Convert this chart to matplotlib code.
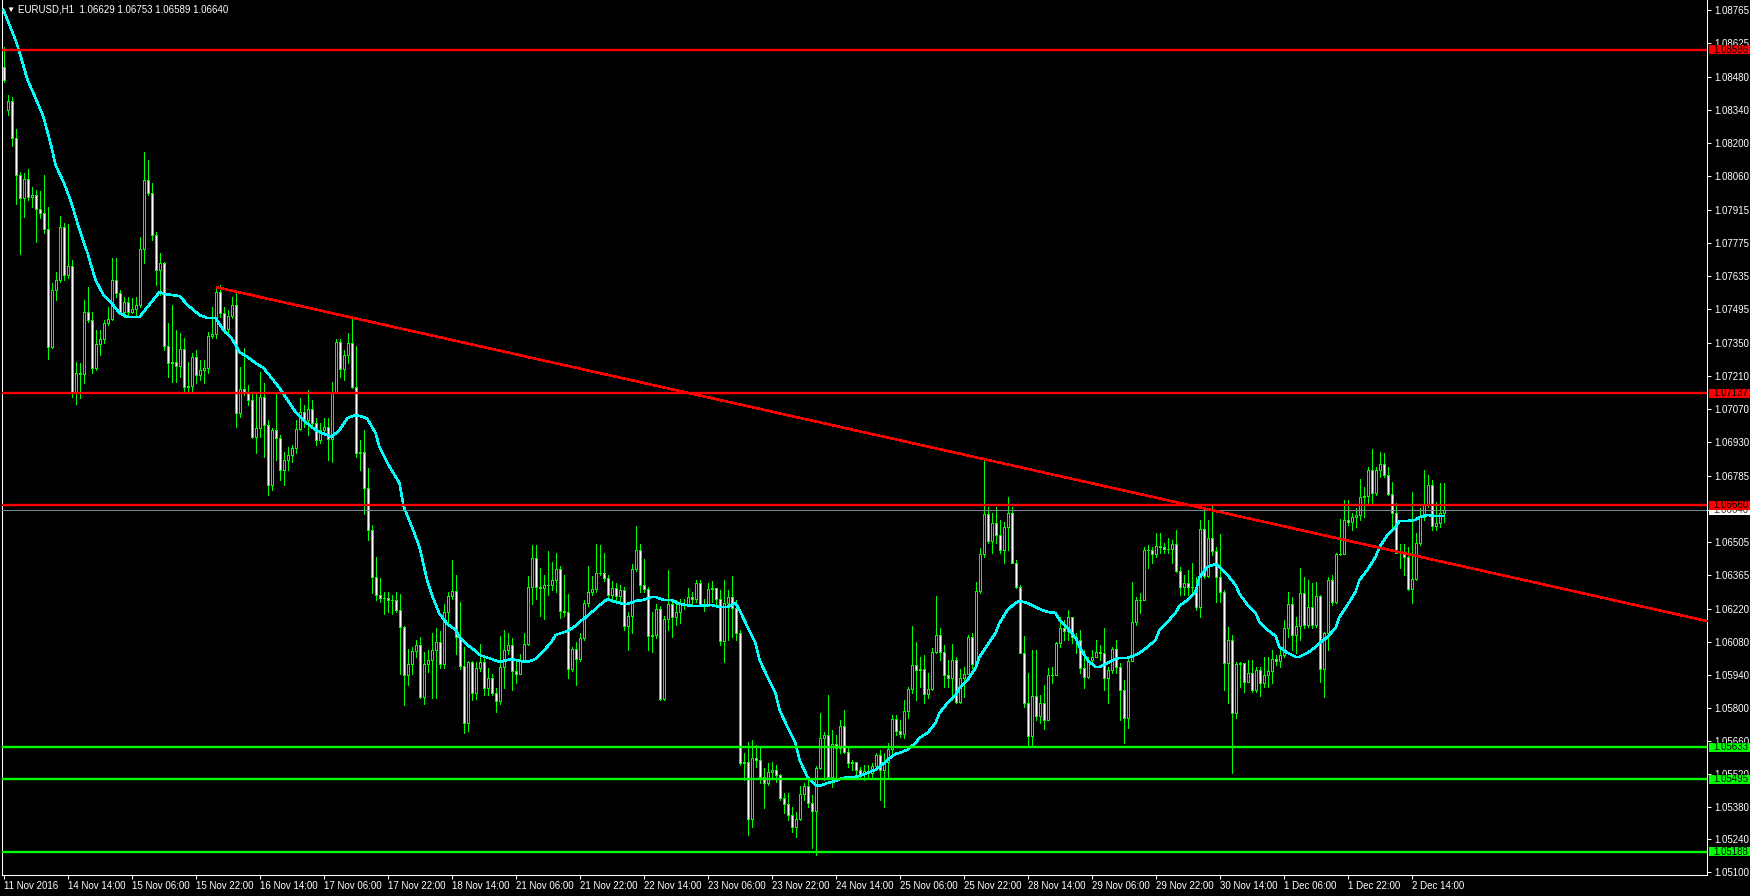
import numpy as np
import matplotlib.pyplot as plt
import matplotlib.transforms as mtransforms
from matplotlib.patches import Rectangle

plt.rcParams['font.family'] = ['Liberation Sans', 'DejaVu Sans']

# EURUSD H1 candles
closes = [
    1.08468, 1.08379, 1.08221, 1.08064, 1.07966, 1.08047, 1.07971, 1.07979, 1.07920, 1.07903,
    1.07835, 1.07333, 1.07575, 1.07618, 1.07843, 1.07639, 1.07677, 1.07138, 1.07223, 1.07218,
    1.07482, 1.07448, 1.07244, 1.07346, 1.07367, 1.07435, 1.07452, 1.07618, 1.07563, 1.07482,
    1.07524, 1.07482, 1.07495, 1.07512, 1.07750, 1.08043, 1.07988, 1.07809, 1.07660, 1.07690,
    1.07337, 1.07265, 1.07269, 1.07252, 1.07325, 1.07163, 1.07167, 1.07291, 1.07214, 1.07235,
    1.07244, 1.07380, 1.07388, 1.07567, 1.07478, 1.07410, 1.07465, 1.07512, 1.07053, 1.07155,
    1.07142, 1.07108, 1.06951, 1.06989, 1.07121, 1.07002, 1.06747, 1.06980, 1.06946, 1.06810,
    1.06853, 1.06874, 1.06904, 1.06985, 1.07057, 1.07023, 1.07070, 1.07010, 1.06938, 1.06980,
    1.06993, 1.06942, 1.07142, 1.07354, 1.07240, 1.07299, 1.07350, 1.07163, 1.06883, 1.06887,
    1.06734, 1.06556, 1.06356, 1.06279, 1.06267, 1.06267, 1.06258, 1.06258, 1.06216, 1.06143,
    1.05939, 1.05986, 1.06041, 1.06067, 1.05846, 1.05986, 1.06003, 1.06046, 1.06080, 1.05986,
    1.06207, 1.06275, 1.06296, 1.06101, 1.05978, 1.05735, 1.05995, 1.05863, 1.05969, 1.05995,
    1.05884, 1.05927, 1.05863, 1.05829, 1.05973, 1.06046, 1.06067, 1.05956, 1.05944, 1.06003,
    1.06071, 1.06313, 1.06437, 1.06313, 1.06309, 1.06322, 1.06322, 1.06343, 1.06390, 1.06211,
    1.06207, 1.05965, 1.06050, 1.06007, 1.06097, 1.06245, 1.06292, 1.06305, 1.06373, 1.06373,
    1.06352, 1.06279, 1.06309, 1.06275, 1.06301, 1.06148, 1.06190, 1.06390, 1.06471, 1.06322,
    1.06305, 1.06105, 1.06109, 1.06220, 1.05837, 1.06177, 1.06241, 1.06186, 1.06207, 1.06241,
    1.06241, 1.06271, 1.06262, 1.06330, 1.06241, 1.06233, 1.06305, 1.06309, 1.06262, 1.06084,
    1.06245, 1.06271, 1.06224, 1.06118, 1.05565, 1.05570, 1.05327, 1.05587, 1.05578, 1.05506,
    1.05480, 1.05527, 1.05536, 1.05514, 1.05417, 1.05391, 1.05344, 1.05293, 1.05327, 1.05434,
    1.05468, 1.05395, 1.05361, 1.05544, 1.05672, 1.05684, 1.05506, 1.05646, 1.05629, 1.05723,
    1.05612, 1.05565, 1.05570, 1.05536, 1.05519, 1.05531, 1.05523, 1.05553, 1.05599, 1.05536,
    1.05570, 1.05625, 1.05752, 1.05701, 1.05689, 1.05786, 1.05880, 1.05982, 1.05961, 1.05965,
    1.05859, 1.05880, 1.06037, 1.06109, 1.06037, 1.05939, 1.05927, 1.06003, 1.05825, 1.05927,
    1.05944, 1.06101, 1.05986, 1.06296, 1.06454, 1.06624, 1.06509, 1.06585, 1.06534, 1.06471,
    1.06568, 1.06628, 1.06415, 1.06313, 1.06033, 1.05820, 1.05680, 1.05850, 1.05765, 1.05820,
    1.05748, 1.05939, 1.05939, 1.06075, 1.06139, 1.06126, 1.06186, 1.06101, 1.06088, 1.05969,
    1.05931, 1.06003, 1.06016, 1.06037, 1.06033, 1.05927, 1.05961, 1.06050, 1.05973, 1.05876,
    1.05757, 1.05999, 1.06165, 1.06258, 1.06258, 1.06471, 1.06471, 1.06454, 1.06488, 1.06483,
    1.06475, 1.06475, 1.06496, 1.06381, 1.06313, 1.06330, 1.06313, 1.06313, 1.06228, 1.06560,
    1.06360, 1.06522, 1.06466, 1.06356, 1.06292, 1.05990, 1.06088, 1.05778, 1.05986, 1.05990,
    1.05910, 1.05948, 1.05876, 1.05961, 1.05905, 1.05939, 1.05956, 1.06007, 1.05999, 1.06024,
    1.06139, 1.06241, 1.06109, 1.06148, 1.06288, 1.06152, 1.06228, 1.06152, 1.06275, 1.05965,
    1.06118, 1.06343, 1.06250, 1.06454, 1.06454, 1.06598, 1.06590, 1.06611, 1.06619, 1.06696,
    1.06700, 1.06811, 1.06713, 1.06811, 1.06836, 1.06789, 1.06709, 1.06628, 1.06458, 1.06458,
    1.06441, 1.06305, 1.06347, 1.06500, 1.06611, 1.06666, 1.06747, 1.06573, 1.06585, 1.06629,
    1.06640,
]

highs = [
    1.08608, 1.08404, 1.08396, 1.08260, 1.08077, 1.08073, 1.08090, 1.08013, 1.08000, 1.07996,
    1.08064, 1.07928, 1.07605, 1.07652, 1.07890, 1.07860, 1.07856, 1.07703, 1.07269, 1.07265,
    1.07533, 1.07588, 1.07482, 1.07405, 1.07405, 1.07448, 1.07503, 1.07711, 1.07711, 1.07575,
    1.07546, 1.07546, 1.07541, 1.07546, 1.07801, 1.08162, 1.08128, 1.08030, 1.07822, 1.07733,
    1.07694, 1.07435, 1.07512, 1.07405, 1.07393, 1.07371, 1.07269, 1.07308, 1.07320, 1.07278,
    1.07278, 1.07397, 1.07503, 1.07588, 1.07597, 1.07503, 1.07490, 1.07546, 1.07567, 1.07248,
    1.07329, 1.07172, 1.07138, 1.07138, 1.07227, 1.07180, 1.07023, 1.06989, 1.07142, 1.06959,
    1.06887, 1.06908, 1.06917, 1.07023, 1.07116, 1.07087, 1.07150, 1.07108, 1.07031, 1.07010,
    1.07031, 1.07031, 1.07184, 1.07367, 1.07367, 1.07320, 1.07393, 1.07456, 1.07337, 1.06938,
    1.06981, 1.06819, 1.06577, 1.06441, 1.06352, 1.06292, 1.06292, 1.06279, 1.06292, 1.06284,
    1.06148, 1.06050, 1.06058, 1.06088, 1.06101, 1.06037, 1.06046, 1.06118, 1.06139, 1.06126,
    1.06241, 1.06292, 1.06428, 1.06364, 1.06250, 1.06058, 1.05999, 1.05999, 1.05995, 1.06071,
    1.06024, 1.05969, 1.05944, 1.05884, 1.06105, 1.06131, 1.06118, 1.06097, 1.05999, 1.06029,
    1.06118, 1.06360, 1.06492, 1.06492, 1.06394, 1.06364, 1.06466, 1.06420, 1.06458, 1.06403,
    1.06364, 1.06284, 1.06058, 1.06080, 1.06118, 1.06258, 1.06403, 1.06360, 1.06496, 1.06492,
    1.06458, 1.06364, 1.06339, 1.06330, 1.06322, 1.06313, 1.06207, 1.06411, 1.06573, 1.06496,
    1.06432, 1.06313, 1.06207, 1.06241, 1.06233, 1.06190, 1.06386, 1.06262, 1.06258, 1.06262,
    1.06262, 1.06309, 1.06292, 1.06343, 1.06343, 1.06262, 1.06330, 1.06339, 1.06292, 1.06301,
    1.06343, 1.06301, 1.06360, 1.06258, 1.06131, 1.05608, 1.05655, 1.05663, 1.05642, 1.05629,
    1.05544, 1.05565, 1.05570, 1.05557, 1.05519, 1.05438, 1.05438, 1.05378, 1.05357, 1.05468,
    1.05480, 1.05493, 1.05429, 1.05553, 1.05778, 1.05697, 1.05854, 1.05706, 1.05684, 1.05748,
    1.05791, 1.05629, 1.05578, 1.05565, 1.05548, 1.05557, 1.05557, 1.05565, 1.05608, 1.05621,
    1.05608, 1.05650, 1.05769, 1.05769, 1.05748, 1.05833, 1.05888, 1.06148, 1.06080, 1.06016,
    1.06024, 1.05948, 1.06054, 1.06275, 1.06139, 1.06067, 1.06003, 1.06071, 1.06016, 1.05965,
    1.05973, 1.06109, 1.06118, 1.06335, 1.06479, 1.06857, 1.06653, 1.06628, 1.06653, 1.06598,
    1.06590, 1.06696, 1.06653, 1.06428, 1.06322, 1.06105, 1.05948, 1.06046, 1.06046, 1.05854,
    1.05897, 1.05969, 1.05973, 1.06080, 1.06186, 1.06173, 1.06216, 1.06186, 1.06118, 1.06131,
    1.06046, 1.06016, 1.06046, 1.06088, 1.06067, 1.06139, 1.05973, 1.06058, 1.06088, 1.05990,
    1.05918, 1.06016, 1.06335, 1.06271, 1.06288, 1.06483, 1.06492, 1.06483, 1.06543, 1.06543,
    1.06500, 1.06522, 1.06513, 1.06556, 1.06398, 1.06364, 1.06386, 1.06415, 1.06356, 1.06598,
    1.06645, 1.06598, 1.06666, 1.06483, 1.06539, 1.06301, 1.06143, 1.06109, 1.05995, 1.05995,
    1.05990, 1.06003, 1.06003, 1.05973, 1.05973, 1.06016, 1.06016, 1.06046, 1.06024, 1.06046,
    1.06173, 1.06292, 1.06271, 1.06186, 1.06394, 1.06356, 1.06343, 1.06330, 1.06335, 1.06279,
    1.06122, 1.06356, 1.06364, 1.06458, 1.06602, 1.06683, 1.06683, 1.06628, 1.06649, 1.06772,
    1.06738, 1.06823, 1.06900, 1.06823, 1.06887, 1.06883, 1.06823, 1.06760, 1.06670, 1.06496,
    1.06496, 1.06483, 1.06717, 1.06543, 1.06649, 1.06811, 1.06789, 1.06768, 1.06675, 1.06755,
    1.06753,
]

lows = [
    1.08459, 1.08319, 1.08187, 1.07941, 1.07728, 1.07886, 1.07958, 1.07928, 1.07779, 1.07881,
    1.07818, 1.07282, 1.07329, 1.07533, 1.07609, 1.07618, 1.07626, 1.07121, 1.07091, 1.07116,
    1.07180, 1.07439, 1.07223, 1.07235, 1.07299, 1.07350, 1.07427, 1.07448, 1.07546, 1.07478,
    1.07461, 1.07461, 1.07478, 1.07469, 1.07503, 1.07690, 1.07979, 1.07788, 1.07597, 1.07554,
    1.07320, 1.07206, 1.07184, 1.07184, 1.07206, 1.07142, 1.07142, 1.07142, 1.07180, 1.07193,
    1.07180, 1.07223, 1.07371, 1.07371, 1.07461, 1.07393, 1.07393, 1.07456, 1.06993, 1.07036,
    1.07129, 1.07087, 1.06946, 1.06883, 1.06951, 1.06866, 1.06704, 1.06725, 1.06853, 1.06768,
    1.06747, 1.06810, 1.06844, 1.06883, 1.06980, 1.06993, 1.06959, 1.06989, 1.06917, 1.06925,
    1.06968, 1.06853, 1.06844, 1.07138, 1.07206, 1.07193, 1.07265, 1.07159, 1.06866, 1.06810,
    1.06624, 1.06513, 1.06288, 1.06258, 1.06250, 1.06199, 1.06207, 1.06199, 1.06207, 1.05944,
    1.05812, 1.05897, 1.05944, 1.06016, 1.05842, 1.05816, 1.05952, 1.05842, 1.05842, 1.05969,
    1.05969, 1.06148, 1.06262, 1.06029, 1.05965, 1.05693, 1.05701, 1.05833, 1.05837, 1.05956,
    1.05854, 1.05854, 1.05854, 1.05782, 1.05816, 1.05884, 1.06029, 1.05876, 1.05905, 1.05944,
    1.05999, 1.06067, 1.06241, 1.06262, 1.06190, 1.06177, 1.06279, 1.06301, 1.06292, 1.06182,
    1.06190, 1.05927, 1.05956, 1.05897, 1.05999, 1.06088, 1.06233, 1.06279, 1.06292, 1.06364,
    1.06339, 1.06262, 1.06250, 1.06258, 1.06250, 1.06131, 1.06046, 1.06118, 1.06381, 1.06292,
    1.06292, 1.06046, 1.06037, 1.06097, 1.05833, 1.05833, 1.06131, 1.06101, 1.06152, 1.06160,
    1.06220, 1.06233, 1.06241, 1.06250, 1.06233, 1.06211, 1.06233, 1.06250, 1.06233, 1.06067,
    1.05995, 1.06088, 1.06101, 1.06088, 1.05557, 1.05493, 1.05259, 1.05293, 1.05548, 1.05480,
    1.05374, 1.05472, 1.05502, 1.05485, 1.05408, 1.05353, 1.05323, 1.05272, 1.05251, 1.05323,
    1.05408, 1.05378, 1.05204, 1.05174, 1.05540, 1.05493, 1.05502, 1.05463, 1.05493, 1.05608,
    1.05608, 1.05548, 1.05536, 1.05506, 1.05502, 1.05493, 1.05506, 1.05506, 1.05544, 1.05408,
    1.05378, 1.05502, 1.05608, 1.05684, 1.05676, 1.05672, 1.05757, 1.05863, 1.05833, 1.05888,
    1.05820, 1.05842, 1.05876, 1.06033, 1.06003, 1.05888, 1.05888, 1.05833, 1.05820, 1.05820,
    1.05846, 1.05961, 1.05969, 1.05982, 1.06288, 1.06441, 1.06500, 1.06458, 1.06500, 1.06458,
    1.06415, 1.06471, 1.06415, 1.06309, 1.06033, 1.05803, 1.05642, 1.05642, 1.05748, 1.05735,
    1.05710, 1.05820, 1.05905, 1.05939, 1.06058, 1.06088, 1.06088, 1.06075, 1.06033, 1.05948,
    1.05884, 1.05927, 1.05982, 1.06016, 1.06003, 1.05876, 1.05820, 1.05948, 1.05948, 1.05748,
    1.05650, 1.05714, 1.06003, 1.06152, 1.06203, 1.06258, 1.06394, 1.06415, 1.06441, 1.06458,
    1.06458, 1.06458, 1.06415, 1.06377, 1.06279, 1.06279, 1.06279, 1.06279, 1.06216, 1.06186,
    1.06352, 1.06356, 1.06449, 1.06250, 1.06250, 1.05876, 1.05820, 1.05523, 1.05757, 1.05888,
    1.05867, 1.05918, 1.05867, 1.05867, 1.05850, 1.05888, 1.05888, 1.05905, 1.05982, 1.05973,
    1.06016, 1.06101, 1.06046, 1.06033, 1.06088, 1.06139, 1.06143, 1.06139, 1.06143, 1.05910,
    1.05846, 1.06046, 1.06237, 1.06245, 1.06449, 1.06454, 1.06577, 1.06556, 1.06568, 1.06598,
    1.06611, 1.06662, 1.06662, 1.06704, 1.06781, 1.06781, 1.06704, 1.06556, 1.06458, 1.06394,
    1.06364, 1.06301, 1.06245, 1.06343, 1.06492, 1.06598, 1.06653, 1.06556, 1.06556, 1.06568,
    1.06589,
]

# opens of bar 0 and bar 1 (weekend gap); later bars open at the previous close
first_opens = [1.08523, 1.08341]

# moving average (cyan), sampled bar -> value
ma_bars = [0, 3, 4, 6, 8, 10, 12, 13, 15, 17, 19, 21, 23, 25, 27, 29, 31, 34, 36, 38,
           39, 40, 44, 46, 49, 51, 53, 55, 57, 59, 61, 63, 65, 67, 69, 71, 73, 75, 77, 79,
           82, 84, 86, 88, 90, 91, 93, 94, 96, 99, 100, 102, 104, 106, 107, 109, 111, 113, 114, 116,
           118, 119, 122, 124, 125, 127, 129, 131, 133, 135, 137, 138, 141, 143, 144, 146, 148, 150, 151, 153,
           155, 156, 158, 160, 162, 163, 165, 167, 169, 172, 174, 177, 179, 181, 183, 184, 186, 188, 189, 191,
           193, 194, 196, 198, 199, 201, 203, 204, 206, 208, 209, 211, 213, 214, 216, 218, 219, 221, 223, 224,
           226, 228, 229, 231, 233, 234, 236, 238, 239, 241, 243, 244, 246, 248, 249, 251, 253, 254, 256, 258,
           259, 261, 263, 264, 266, 268, 269, 271, 273, 274, 276, 278, 279, 281, 283, 284, 286, 288, 289, 291,
           293, 294, 296, 298, 299, 301, 303, 304, 306, 308, 309, 311, 313, 314, 316, 318, 319, 321, 323, 324,
           326, 328, 329, 331, 333, 334, 336, 338, 339, 341, 343, 344, 346, 348, 349, 351, 353, 354, 356, 358,
           360]
ma_vals = [1.08766, 1.08638, 1.08587, 1.08468, 1.08392, 1.08311, 1.08183, 1.08107, 1.08035, 1.07945,
           1.07831, 1.07733, 1.07618, 1.07554, 1.07520, 1.07478, 1.07461, 1.07461, 1.07503, 1.07546,
           1.07567, 1.07559, 1.07550, 1.07512, 1.07469, 1.07456, 1.07456, 1.07405, 1.07371, 1.07312,
           1.07291, 1.07265, 1.07244, 1.07202, 1.07159, 1.07108, 1.07057, 1.07023, 1.06993, 1.06972,
           1.06951, 1.06980, 1.07031, 1.07044, 1.07036, 1.07027, 1.06968, 1.06908, 1.06840, 1.06755,
           1.06658, 1.06573, 1.06483, 1.06335, 1.06284, 1.06199, 1.06156, 1.06131, 1.06101, 1.06067,
           1.06041, 1.06024, 1.06007, 1.05995, 1.05999, 1.06007, 1.05999, 1.05995, 1.06007, 1.06041,
           1.06080, 1.06109, 1.06126, 1.06148, 1.06165, 1.06190, 1.06220, 1.06250, 1.06262, 1.06250,
           1.06241, 1.06241, 1.06254, 1.06258, 1.06271, 1.06271, 1.06258, 1.06258, 1.06241, 1.06233,
           1.06233, 1.06237, 1.06228, 1.06228, 1.06245, 1.06216, 1.06143, 1.06075, 1.06003, 1.05931,
           1.05863, 1.05791, 1.05718, 1.05650, 1.05578, 1.05506, 1.05472, 1.05468, 1.05480, 1.05489,
           1.05497, 1.05506, 1.05506, 1.05510, 1.05523, 1.05536, 1.05548, 1.05578, 1.05604, 1.05608,
           1.05621, 1.05650, 1.05672, 1.05693, 1.05735, 1.05778, 1.05820, 1.05854, 1.05884, 1.05918,
           1.05969, 1.06016, 1.06067, 1.06118, 1.06160, 1.06216, 1.06245, 1.06254, 1.06245, 1.06228,
           1.06220, 1.06207, 1.06203, 1.06173, 1.06139, 1.06097, 1.06058, 1.06003, 1.05973, 1.05973,
           1.05990, 1.06007, 1.06012, 1.06012, 1.06024, 1.06033, 1.06058, 1.06088, 1.06131, 1.06165,
           1.06203, 1.06233, 1.06258, 1.06292, 1.06356, 1.06398, 1.06411, 1.06398, 1.06364, 1.06322,
           1.06284, 1.06237, 1.06203, 1.06165, 1.06131, 1.06105, 1.06058, 1.06033, 1.06016, 1.06016,
           1.06033, 1.06058, 1.06075, 1.06101, 1.06139, 1.06186, 1.06237, 1.06292, 1.06343, 1.06386,
           1.06441, 1.06483, 1.06534, 1.06568, 1.06594, 1.06594, 1.06598, 1.06611, 1.06619, 1.06615,
           1.06615]

red_levels = [1.08596, 1.07137, 1.06660]
green_levels = [1.05633, 1.05495, 1.05188]
bid_price = 1.06640
trend_bars = [53, 245]
trend_prices = [1.07588, 1.06857]

time_ticks = list(range(0, 353, 16))
time_labels = ['11 Nov 2016', '14 Nov 14:00', '15 Nov 06:00', '15 Nov 22:00', '16 Nov 14:00',
               '17 Nov 06:00', '17 Nov 22:00', '18 Nov 14:00', '21 Nov 06:00', '21 Nov 22:00',
               '22 Nov 14:00', '23 Nov 06:00', '23 Nov 22:00', '24 Nov 14:00', '25 Nov 06:00',
               '25 Nov 22:00', '28 Nov 14:00', '29 Nov 06:00', '29 Nov 22:00', '30 Nov 14:00',
               '1 Dec 06:00', '1 Dec 22:00', '2 Dec 14:00']
price_ticks = [1.08765, 1.08625, 1.08480, 1.08340, 1.08200, 1.08060, 1.07915, 1.07775, 1.07635,
               1.07495, 1.07350, 1.07210, 1.07070, 1.06930, 1.06785, 1.06640, 1.06505, 1.06365,
               1.06220, 1.06080, 1.05940, 1.05800, 1.05660, 1.05520, 1.05380, 1.05240, 1.05100]

title = 'EURUSD,H1  1.06629 1.06753 1.06589 1.06640'

c = np.array(closes)
o = np.array(first_opens + closes[1:-1])
h = np.maximum(np.array(highs), np.maximum(o, c))
l = np.minimum(np.array(lows), np.minimum(o, c))
x = np.arange(len(c))

GREEN = '#00ff00'
W, H = 1750, 896

fig = plt.figure(figsize=(W / 100, H / 100), dpi=100, facecolor='black')
ax = fig.add_axes([2 / W, 21 / H, 1705 / W, 875 / H], facecolor='black')
ymin, ymax = 1.05089, 1.08808
# 4 px per bar, bar centres on pixel centres
ax.set_xlim(-0.375, 425.875)
ax.set_ylim(ymin, ymax)

# candles
ax.vlines(x, l, h, color=GREEN, lw=0.72, zorder=3, antialiased=False)
fills = np.where(c >= o, 'black', 'white')
ax.bar(x, np.abs(c - o), bottom=np.minimum(o, c), width=0.5, color=fills,
       edgecolor=GREEN, linewidth=0.72, zorder=4, antialiased=False)

# moving average
ax.plot(ma_bars, ma_vals, color='#00ffff', lw=1.1, zorder=5, antialiased=False)

# levels (2 px, snapped)
for v in red_levels:
    ax.axhline(v, color='red', lw=1.7, zorder=6, snap=True)
for v in green_levels:
    ax.axhline(v, color=GREEN, lw=1.7, zorder=6, snap=True)
ax.axhline(bid_price, color='#778899', lw=0.72, zorder=6, snap=True)

# trend line (ray to the right)
tl = ax.axline((trend_bars[0], trend_prices[0]), (trend_bars[1], trend_prices[1]),
               color='red', lw=1.1, zorder=6, antialiased=False)
clip = Rectangle((trend_bars[0], 0.5), 1000, 1.0, transform=ax.transData)
tl.set_clip_path(clip)

# axes styling
for s in ['left', 'right', 'bottom']:
    ax.spines[s].set_color('white')
    ax.spines[s].set_linewidth(0.75)
ax.spines['top'].set_visible(False)

ax.yaxis.tick_right()
ax.set_yticks(price_ticks)
ax.set_yticklabels([f'{v:.5f}' for v in price_ticks])
ax.tick_params(axis='y', colors='white', length=3, width=0.75, pad=2, labelsize=7)
ax.set_xticks(time_ticks)
ax.set_xticklabels(time_labels, ha='left')
ax.tick_params(axis='x', colors='white', length=3, width=0.75, pad=1, labelsize=7)

# price labels on the right scale
trans = mtransforms.blended_transform_factory(ax.transAxes, ax.transData)
px = (ymax - ymin) / 875
labels = [(bid_price, 'white', '#333333', 8)]
labels += [(v, 'red', 'black', 10) for v in red_levels]
labels += [(v, GREEN, 'black', 10) for v in green_levels]
for v, fc, tc, z in labels:
    ax.add_patch(Rectangle((1.001, v - 4.5 * px), 0.03, 9 * px, transform=trans,
                           facecolor=fc, edgecolor='none', clip_on=False, zorder=z))
    ax.text(1.0035, v, f'{v:.5f}', transform=trans, color=tc, fontsize=7,
            ha='left', va='center', clip_on=False, zorder=z + 1)

# symbol header
fig.text(6 / W, 1 - 10 / H, '\u25bc', color='white', fontsize=6, ha='left', va='center')
fig.text(18 / W, 1 - 10 / H, title, color='white', fontsize=7, ha='left', va='center')

fig.savefig('out.png', dpi=100, facecolor='black')
